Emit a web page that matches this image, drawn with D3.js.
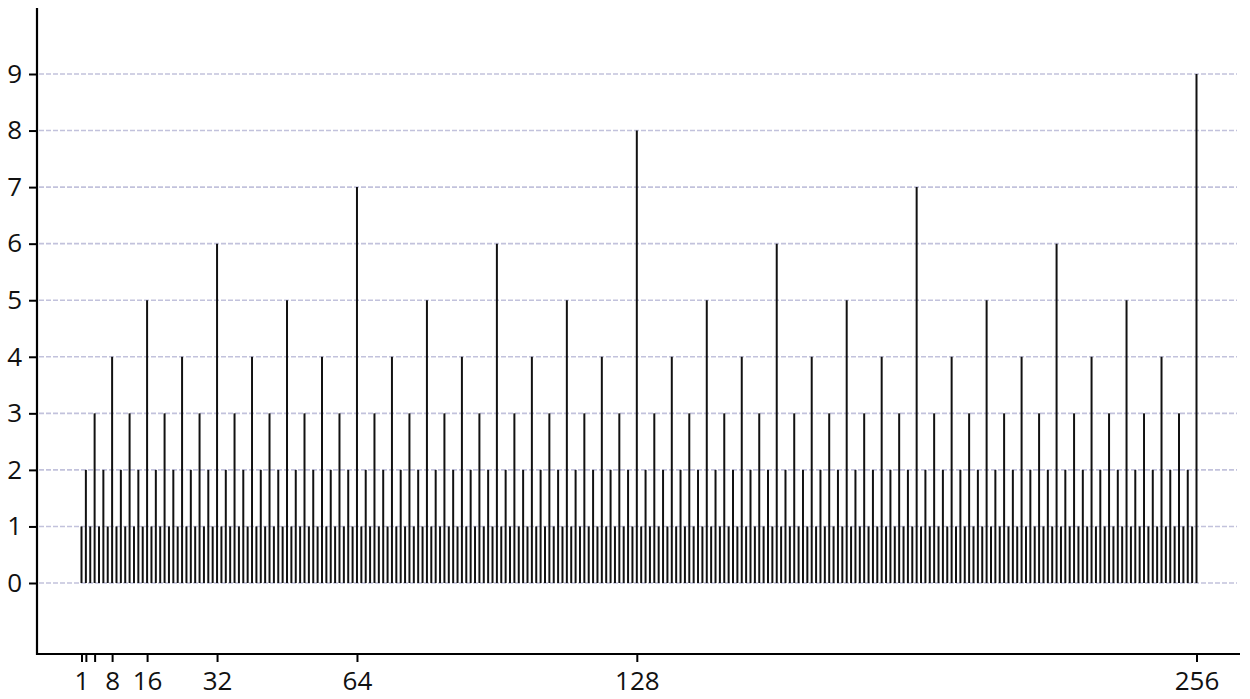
<!DOCTYPE html>
<html>
<head>
<meta charset="utf-8">
<script src="https://cdn.jsdelivr.net/npm/d3@7"></script>
<style>
  html, body { margin: 0; padding: 0; background: #fff; }
  svg { display: block; font-family: "Open Sans", "Noto Sans", sans-serif; }
</style>
</head>
<body>
<svg id="chart" width="1250" height="699"></svg>
<script>
// n = 1..256, height of each stick
const positions = d3.range(1, 257);
const heights = [
  1,2,1,3,1,2,1,4,1,2,1,3,1,2,1,5,
  1,2,1,3,1,2,1,4,1,2,1,3,1,2,1,6,
  1,2,1,3,1,2,1,4,1,2,1,3,1,2,1,5,
  1,2,1,3,1,2,1,4,1,2,1,3,1,2,1,7,
  1,2,1,3,1,2,1,4,1,2,1,3,1,2,1,5,
  1,2,1,3,1,2,1,4,1,2,1,3,1,2,1,6,
  1,2,1,3,1,2,1,4,1,2,1,3,1,2,1,5,
  1,2,1,3,1,2,1,4,1,2,1,3,1,2,1,8,
  1,2,1,3,1,2,1,4,1,2,1,3,1,2,1,5,
  1,2,1,3,1,2,1,4,1,2,1,3,1,2,1,6,
  1,2,1,3,1,2,1,4,1,2,1,3,1,2,1,5,
  1,2,1,3,1,2,1,4,1,2,1,3,1,2,1,7,
  1,2,1,3,1,2,1,4,1,2,1,3,1,2,1,5,
  1,2,1,3,1,2,1,4,1,2,1,3,1,2,1,6,
  1,2,1,3,1,2,1,4,1,2,1,3,1,2,1,5,
  1,2,1,3,1,2,1,4,1,2,1,3,1,2,1,9
];
const xTicks = [1, 2, 4, 8, 16, 32, 64, 128, 256];
const xLabels = [1, 8, 16, 32, 64, 128, 256];
const yTicks = d3.range(0, 10);

const svg = d3.select("#chart");
const m = { left: 37, right: 1240, top: 8, bottom: 654 };

const x = d3.scaleLinear().domain([1, 256]).range([81.5, 1196.5]);
const y = d3.scaleLinear().domain([0, 9]).range([583, 74]);

// grid
svg.append("g").selectAll("line")
  .data(yTicks).enter().append("line")
  .attr("x1", m.left + 2).attr("x2", m.right - 3)
  .attr("y1", d => y(d)).attr("y2", d => y(d))
  .attr("stroke", "#c2c2dc").attr("stroke-width", 1.6)
  .attr("stroke-dasharray", "5,2");

// sticks
svg.append("g").selectAll("line")
  .data(positions).enter().append("line")
  .attr("x1", d => x(d)).attr("x2", d => x(d))
  .attr("y1", y(0)).attr("y2", (d, i) => y(heights[i]))
  .attr("stroke", "#111").attr("stroke-width", 2);

// axes
const yAxis = svg.append("g").attr("transform", `translate(${m.left},0)`)
  .call(d3.axisLeft(y).tickValues(yTicks).tickSize(8).tickPadding(7).tickFormat(d3.format("d")));
yAxis.select(".domain").remove();
yAxis.append("line").attr("x1", 0).attr("x2", 0).attr("y1", m.top).attr("y2", m.bottom + 1)
  .attr("stroke", "#000").attr("stroke-width", 2.2);

const xAxis = svg.append("g").attr("transform", `translate(0,${m.bottom})`)
  .call(d3.axisBottom(x).tickValues(xTicks).tickSize(8).tickPadding(10)
    .tickFormat(d => xLabels.includes(d) ? d : ""));
xAxis.select(".domain").remove();
xAxis.append("line").attr("x1", m.left - 1).attr("x2", m.right).attr("y1", 0).attr("y2", 0)
  .attr("stroke", "#000").attr("stroke-width", 2.2);

svg.selectAll(".tick line").attr("stroke", "#000").attr("stroke-width", 2);
svg.selectAll(".tick text").attr("fill", "#111").attr("font-size", 26)
  .attr("font-family", "'Open Sans', 'Noto Sans', sans-serif");
</script>
</body>
</html>
